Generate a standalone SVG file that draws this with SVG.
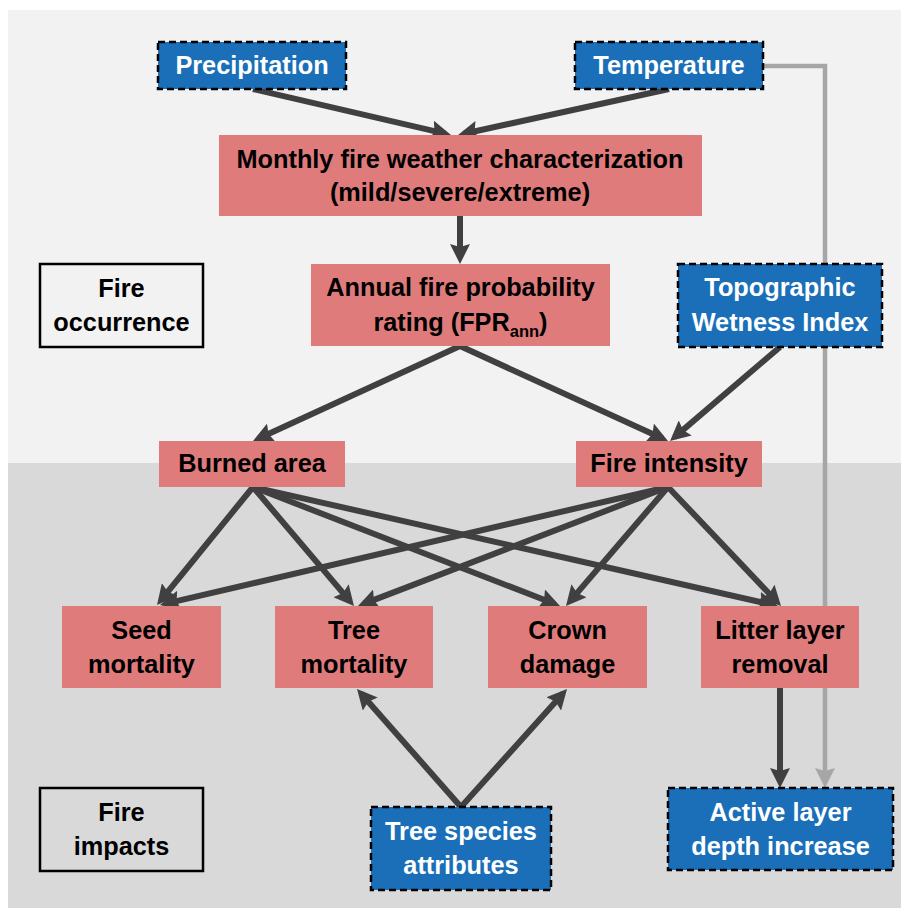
<svg xmlns="http://www.w3.org/2000/svg" width="901" height="910" viewBox="0 0 901 910">
<defs>
<style>
.blue{fill:#1a6fb8;stroke:#000;stroke-width:2.5;stroke-dasharray:7 4}
.pink{fill:#e07b7c}
.lbl{fill:none;stroke:#000;stroke-width:2.5}
.t{font-family:"Liberation Sans",Arial,sans-serif;font-weight:bold;font-size:25.3px;text-anchor:middle;fill:#000}
.w{fill:#fff}
.a{stroke:#404040;stroke-width:6;fill:none;marker-end:url(#ah)}
.g{stroke:#a6a6a6;stroke-width:4.5;fill:none;marker-end:url(#ag)}
</style>
<marker id="ah" viewBox="0 0 20 20" refX="14" refY="10" markerWidth="20" markerHeight="20" markerUnits="userSpaceOnUse" orient="auto">
<path d="M0,0 L20,10 L0,20 L3,10 z" fill="#404040"/>
</marker>
<marker id="ag" viewBox="0 0 20 20" refX="14" refY="10" markerWidth="20" markerHeight="20" markerUnits="userSpaceOnUse" orient="auto">
<path d="M0,0 L20,10 L0,20 L3,10 z" fill="#a6a6a6"/>
</marker>
</defs>
<rect x="0" y="0" width="901" height="910" fill="#fff"/>
<rect x="8" y="10" width="893" height="453" fill="#f2f2f2"/>
<rect x="8" y="463" width="893" height="445" fill="#d9d9d9"/>

<g id="connectors">
<line class="a" x1="253" y1="89" x2="445.2" y2="133.6"/>
<line class="a" x1="669" y1="89" x2="463.9" y2="133.7"/>
<line class="a" x1="460" y1="216" x2="460" y2="258"/>
<line class="a" x1="460" y1="346" x2="258.5" y2="438.5"/>
<line class="a" x1="460" y1="346" x2="662.5" y2="438.5"/>
<line class="a" x1="780" y1="347" x2="674.6" y2="437.1"/>
<line class="a" x1="253" y1="487" x2="160.8" y2="600.3"/>
<line class="a" x1="253" y1="487" x2="350.1" y2="601.4"/>
<line class="a" x1="253" y1="487" x2="554.4" y2="603.8"/>
<line class="a" x1="253" y1="487" x2="772.2" y2="604.7"/>
<line class="a" x1="668" y1="487" x2="165.8" y2="603.6"/>
<line class="a" x1="668" y1="487" x2="363.6" y2="603.9"/>
<line class="a" x1="668" y1="487" x2="569.9" y2="601.4"/>
<line class="a" x1="668" y1="487" x2="776.9" y2="601.7"/>
<line class="a" x1="461" y1="807" x2="361" y2="693.5"/>
<line class="a" x1="461" y1="807" x2="563" y2="693.5"/>
<line class="a" x1="780" y1="688" x2="780" y2="782"/>
<path class="g" d="M763,66 H825 V782"/>
</g>

<g id="precipitation">
<rect class="blue" x="158" y="42" width="188" height="47"/>
<text class="t w" x="252" y="74">Precipitation</text>
</g>
<g id="temperature">
<rect class="blue" x="575" y="42" width="188" height="47"/>
<text class="t w" x="669" y="74">Temperature</text>
</g>
<g id="monthly">
<rect class="pink" x="219" y="135" width="483" height="81"/>
<text class="t" x="460" y="168">Monthly fire weather characterization</text>
<text class="t" x="460" y="201">(mild/severe/extreme)</text>
</g>
<g id="fire-occurrence">
<rect class="lbl" x="40" y="264" width="163" height="83"/>
<text class="t" x="121.5" y="297">Fire</text>
<text class="t" x="121.5" y="331">occurrence</text>
</g>
<g id="annual">
<rect class="pink" x="311" y="264" width="299" height="82"/>
<text class="t" x="460.5" y="296">Annual fire probability</text>
<text class="t" x="460.5" y="331">rating (FPR<tspan font-size="16.5" dy="6">ann</tspan><tspan dy="-6">)</tspan></text>
</g>
<g id="twi">
<rect class="blue" x="678" y="264" width="204" height="83"/>
<text class="t w" x="780" y="296">Topographic</text>
<text class="t w" x="780" y="331">Wetness Index</text>
</g>
<g id="burned-area">
<rect class="pink" x="159" y="441" width="186" height="46"/>
<text class="t" x="252" y="472">Burned area</text>
</g>
<g id="fire-intensity">
<rect class="pink" x="576" y="441" width="186" height="46"/>
<text class="t" x="669" y="472">Fire intensity</text>
</g>
<g id="seed-mortality">
<rect class="pink" x="62" y="606" width="159" height="82"/>
<text class="t" x="141.5" y="639">Seed</text>
<text class="t" x="141.5" y="673">mortality</text>
</g>
<g id="tree-mortality">
<rect class="pink" x="275" y="606" width="158" height="82"/>
<text class="t" x="354" y="639">Tree</text>
<text class="t" x="354" y="673">mortality</text>
</g>
<g id="crown-damage">
<rect class="pink" x="488" y="606" width="159" height="82"/>
<text class="t" x="567.5" y="639">Crown</text>
<text class="t" x="567.5" y="673">damage</text>
</g>
<g id="litter-layer">
<rect class="pink" x="701" y="606" width="158" height="82"/>
<text class="t" x="780" y="639">Litter layer</text>
<text class="t" x="780" y="673">removal</text>
</g>
<g id="fire-impacts">
<rect class="lbl" x="40" y="788" width="163" height="83"/>
<text class="t" x="121.5" y="821">Fire</text>
<text class="t" x="121.5" y="855">impacts</text>
</g>
<g id="tree-species">
<rect class="blue" x="371" y="807" width="180" height="83"/>
<text class="t w" x="461" y="840">Tree species</text>
<text class="t w" x="461" y="874">attributes</text>
</g>
<g id="active-layer">
<rect class="blue" x="668" y="788" width="225" height="82"/>
<text class="t w" x="780.5" y="821">Active layer</text>
<text class="t w" x="780.5" y="855">depth increase</text>
</g>
</svg>
